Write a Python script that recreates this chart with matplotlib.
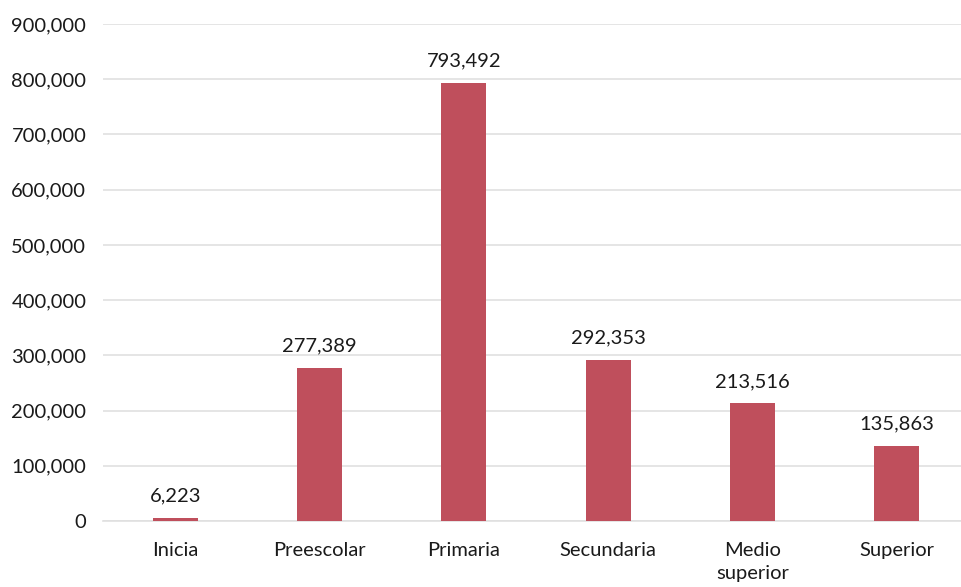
import matplotlib
matplotlib.use("Agg")
from matplotlib import pyplot as plt
from matplotlib.ticker import FuncFormatter

categories = ["Inicia", "Preescolar", "Primaria", "Secundaria", "Medio\nsuperior", "Superior"]
values = [6223, 277389, 793492, 292353, 213516, 135863]
y_ticks = [0, 100000, 200000, 300000, 400000, 500000, 600000, 700000, 800000, 900000]

plt.rcParams["font.family"] = ["Lato", "DejaVu Sans"]

fig = plt.figure(figsize=(9.61, 5.87), dpi=100)
ax = fig.add_axes([103 / 961, 66 / 587, 866 / 961, 497 / 587])

x = list(range(len(categories)))
bars = ax.bar(x, values, width=0.31, color="#BF4F5C", zorder=3)

for xi, v in zip(x, values):
	ax.annotate(f"{v:,}", (xi, v), xytext=(0, 9.5), textcoords="offset points",
		ha="center", va="bottom", fontsize=14.5, color="#1a1a1a")

ax.set_xlim(-0.5, len(categories) - 0.5)
ax.set_ylim(0, 900000)
ax.set_yticks(y_ticks)
ax.yaxis.set_major_formatter(FuncFormatter(lambda v, p: f"{int(v):,}"))
ax.set_xticks(x)
ax.set_xticklabels(categories, linespacing=1.45)

ax.grid(axis="y", color="#E0E0E0", linewidth=1.2, zorder=0)
for s in ["top", "right", "left"]:
	ax.spines[s].set_visible(False)
ax.spines["bottom"].set_color("#E0E0E0")
ax.spines["bottom"].set_linewidth(1.2)
ax.tick_params(axis="both", length=0, labelsize=14.5, colors="#1a1a1a")
ax.tick_params(axis="x", pad=15)
ax.tick_params(axis="y", pad=12)

fig.savefig("out.png", dpi=100)
